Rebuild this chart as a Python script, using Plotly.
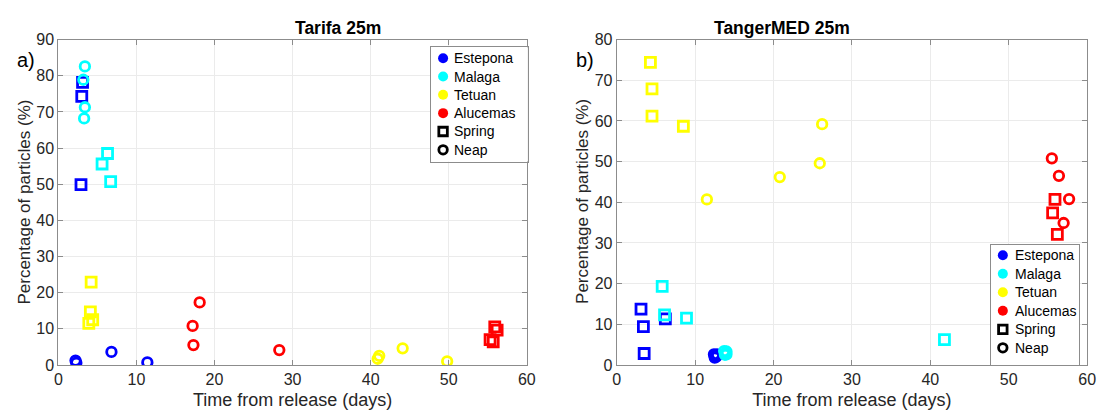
import plotly.graph_objects as go

sites = ["Estepona", "Malaga", "Tetuan", "Alucemas"]
site_colors = ["#0000ff", "#00ffff", "#ffff00", "#ff0000"]
tides = ["Spring", "Neap"]
tide_symbols = ["square-open", "circle-open"]
tide_sizes = [10, 9.5]

# Panel a) Tarifa 25m : x = time from release (days), y = percentage (%)
tarifa = {
    ("Estepona", "Spring"): ([3.1, 3.0, 2.9], [78.2, 74.3, 49.9]),
    ("Estepona", "Neap"): ([2.2, 2.3, 6.8, 11.4], [1.2, 0.6, 3.6, 0.7]),
    ("Malaga", "Spring"): ([6.3, 5.6, 6.7], [58.5, 55.6, 50.7]),
    ("Malaga", "Neap"): ([3.4, 3.2, 3.4, 3.3], [82.6, 78.9, 71.3, 68.2]),
    ("Tetuan", "Spring"): ([4.2, 4.1, 4.4, 3.9], [22.9, 14.7, 12.5, 11.5]),
    ("Tetuan", "Neap"): ([41.1, 40.9, 44.1, 49.8], [2.5, 1.7, 4.6, 1.0]),
    ("Alucemas", "Spring"): ([55.3, 55.7, 55.9, 56.2], [7.0, 6.4, 10.5, 9.6]),
    ("Alucemas", "Neap"): ([18.1, 17.2, 17.3, 28.3], [17.3, 10.8, 5.5, 4.1]),
}

# Panel b) TangerMED 25m
tanger = {
    ("Estepona", "Spring"): ([3.1, 3.4, 3.5, 6.2], [13.7, 9.4, 2.8, 11.3]),
    ("Estepona", "Neap"): ([12.4, 12.8, 12.5, 12.7, 12.6], [2.6, 2.6, 1.8, 2.0, 2.4]),
    ("Malaga", "Spring"): ([5.8, 6.1, 8.9, 41.8], [19.3, 12.3, 11.5, 6.2]),
    ("Malaga", "Neap"): ([13.7, 14.0, 13.8, 14.0, 13.9], [3.4, 3.3, 2.5, 2.6, 2.9]),
    ("Tetuan", "Spring"): ([4.3, 4.5, 4.5, 8.5], [74.4, 67.9, 61.2, 58.7]),
    ("Tetuan", "Neap"): ([11.5, 20.8, 26.2, 25.9], [40.7, 46.2, 59.2, 49.6]),
    ("Alucemas", "Spring"): ([55.9, 55.6, 56.2], [40.7, 37.4, 32.1]),
    ("Alucemas", "Neap"): ([55.5, 56.4, 57.7, 57.0], [50.8, 46.5, 40.8, 34.9]),
}

legend_labels = sites + tides

x_ticks = [0, 10, 20, 30, 40, 50, 60]
ya_ticks = [0, 10, 20, 30, 40, 50, 60, 70, 80, 90]
yb_ticks = [0, 10, 20, 30, 40, 50, 60, 70, 80]

FONT = "Liberation Sans, Arial, sans-serif"
AX = "#262626"
W, H = 1107, 419


def px_x(p):
    return p / W


def px_y(p):
    return 1 - p / H


fig = go.Figure()

panels = [(tarifa, "x", "y"), (tanger, "x2", "y2")]
for data, xa, ya in panels:
    for tide, sym, sz in zip(tides, tide_symbols, tide_sizes):
        for site, col in zip(sites, site_colors):
            xs, ys = data[(site, tide)]
            fig.add_trace(go.Scatter(
                x=xs, y=ys, mode="markers", xaxis=xa, yaxis=ya,
                showlegend=False, name=f"{site} {tide}",
                marker=dict(symbol=sym, size=sz, color=col, line=dict(width=2.8, color=col)),
            ))

# Hand-built legends (one small subplot per legend box, in pixel units)
legend_boxes = [
    # (xaxis, yaxis, left, right, top, bottom, first_row, row_step, sym_x, text_x)
    ("x3", "y3", 432, 530, 41, 160, 11.3, 19.1, 12.3, 21.5),
    ("x4", "y4", 999, 1088, 247, 372, 10.7, 19.3, 11.7, 21.5),
]
annotations = []
for xa, ya, l, r, t, b, r0, step, sx, tx in legend_boxes:
    w, h = r - l, b - t
    fig.add_trace(go.Scatter(
        x=[0, w, w, 0, 0], y=[0, 0, h, h, 0], xaxis=xa, yaxis=ya, mode="lines",
        fill="toself", fillcolor="white", line=dict(width=0), showlegend=False, hoverinfo="skip",
    ))
    rows = [r0 + i * step for i in range(len(legend_labels))]
    fig.add_trace(go.Scatter(
        x=[sx] * len(sites), y=rows[:len(sites)], xaxis=xa, yaxis=ya, mode="markers",
        marker=dict(symbol="circle", size=10, color=site_colors), showlegend=False, hoverinfo="skip",
    ))
    for i, sym in enumerate(tide_symbols):
        fig.add_trace(go.Scatter(
            x=[sx], y=[rows[len(sites) + i]], xaxis=xa, yaxis=ya, mode="markers",
            marker=dict(symbol=sym, size=8.5, color="black", line=dict(width=2.8, color="black")),
            showlegend=False, hoverinfo="skip",
        ))
    for lab, ry in zip(legend_labels, rows):
        annotations.append(dict(
            text=lab, x=tx, y=ry, xref=xa, yref=ya, xanchor="left", yanchor="middle",
            showarrow=False, font=dict(family=FONT, size=14, color="black"),
        ))

common_axis = dict(
    showline=True, linecolor="#8c8c8c", linewidth=1, mirror="ticks",
    ticks="inside", ticklen=5, tickcolor="#8c8c8c",
    showgrid=True, gridcolor="#ebebeb", gridwidth=1, zeroline=False,
    tickfont=dict(family=FONT, size=16, color=AX),
)
legend_axis = dict(showline=True, linecolor="#8c8c8c", linewidth=1, mirror=True,
                   showgrid=False, zeroline=False, showticklabels=False, ticks="")

dom_a = [px_x(55), px_x(529)]
dom_b = [px_x(620), px_x(1096)]
dom_y = [px_y(372), px_y(33)]

xt = dict(text="Time from release (days)", font=dict(family=FONT, size=18, color=AX), standoff=6)
ytitle = "Percentage of particles (%)"

fig.update_layout(
    width=W, height=H,
    margin=dict(l=0, r=0, t=0, b=0),
    paper_bgcolor="white", plot_bgcolor="white",
    font=dict(family=FONT, color=AX),
    showlegend=False,
    xaxis=dict(domain=dom_a, range=[0, 60], tickvals=x_ticks, anchor="y", title=xt, **common_axis),
    yaxis=dict(domain=dom_y, range=[0, 90], tickvals=ya_ticks, anchor="x", **common_axis),
    xaxis2=dict(domain=dom_b, range=[0, 60], tickvals=x_ticks, anchor="y2", title=xt, **common_axis),
    yaxis2=dict(domain=dom_y, range=[0, 80], tickvals=yb_ticks, anchor="x2", **common_axis),
    xaxis3=dict(domain=[px_x(432), px_x(530)], range=[0, 98], anchor="y3", **legend_axis),
    yaxis3=dict(domain=[px_y(160), px_y(41)], range=[119, 0], anchor="x3", **legend_axis),
    xaxis4=dict(domain=[px_x(999), px_x(1088)], range=[0, 89], anchor="y4", **legend_axis),
    yaxis4=dict(domain=[px_y(372), px_y(247)], range=[125, 0], anchor="x4", **legend_axis),
    annotations=annotations + [
        dict(text=ytitle, textangle=-90, x=px_x(21), y=px_y(202), xref="paper", yref="paper",
             showarrow=False, font=dict(family=FONT, size=17, color=AX), xanchor="center", yanchor="middle"),
        dict(text=ytitle, textangle=-90, x=px_x(586), y=px_y(202), xref="paper", yref="paper",
             showarrow=False, font=dict(family=FONT, size=17, color=AX), xanchor="center", yanchor="middle"),
        dict(text="<b>Tarifa 25m</b>", x=(dom_a[0] + dom_a[1]) / 2, y=px_y(21), xref="paper", yref="paper",
             showarrow=False, font=dict(family=FONT, size=17.5, color="black"), yanchor="middle"),
        dict(text="<b>TangerMED 25m</b>", x=(dom_b[0] + dom_b[1]) / 2, y=px_y(21), xref="paper", yref="paper",
             showarrow=False, font=dict(family=FONT, size=17.5, color="black"), yanchor="middle"),
        dict(text="a)", x=px_x(11), y=px_y(54), xref="paper", yref="paper", xanchor="left",
             showarrow=False, font=dict(family=FONT, size=20, color="black"), yanchor="middle"),
        dict(text="b)", x=px_x(577), y=px_y(54), xref="paper", yref="paper", xanchor="left",
             showarrow=False, font=dict(family=FONT, size=20, color="black"), yanchor="middle"),
    ],
)

# remove the browser's default 8px body margin so the figure sits at the page origin; hide the modebar
fig.write_html("out.html", config={"displayModeBar": False},
               post_script="document.body.style.margin='0';")
